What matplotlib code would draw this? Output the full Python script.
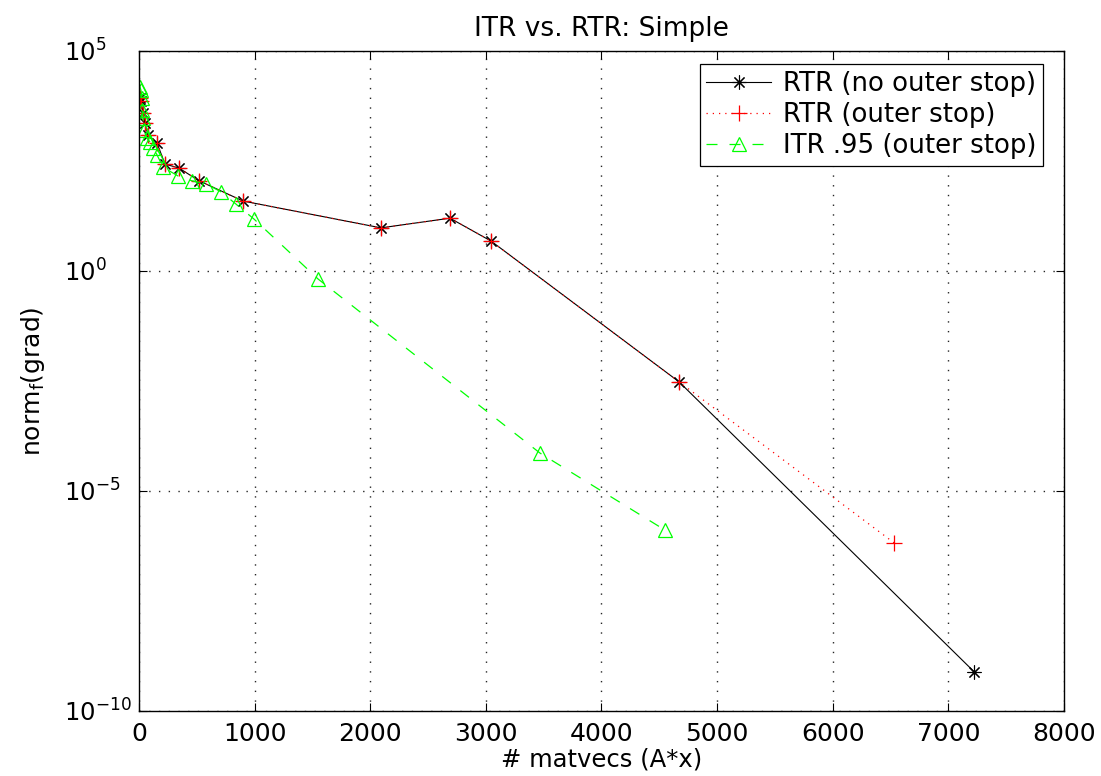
import numpy as np
import matplotlib
matplotlib.use("Agg")
import matplotlib.pyplot as plt

plt.rcParams['font.family'] = ['DejaVu Sans']
plt.rcParams['mathtext.default'] = 'regular'

# RTR without outer stop (black *)
rtr_x = [9, 17, 35, 52, 78, 156, 225, 346, 519, 900, 2093, 2690, 3045, 4671, 7223]
rtr_dec = [3.93, 3.86, 3.59, 3.36, 3.09, 2.91, 2.43, 2.34, 2.05, 1.59, 0.98, 1.20, 0.68, -2.52, -9.11]

# RTR with outer stop (red +)
rtro_x = [9, 17, 35, 52, 78, 156, 225, 346, 519, 900, 2093, 2690, 3045, 4671, 6531]
rtro_dec = [3.93, 3.86, 3.59, 3.36, 3.09, 2.91, 2.43, 2.34, 2.05, 1.59, 0.98, 1.20, 0.68, -2.52, -6.18]

# ITR .95 with outer stop (green triangles)
itr_x = [9, 17, 26, 26, 35, 43, 69, 95, 121, 156, 208, 337, 458, 580, 709, 839, 995, 1548, 3469, 4550]
itr_dec = [4.18, 4.11, 3.93, 3.66, 3.48, 3.20, 3.02, 2.93, 2.80, 2.64, 2.36, 2.16, 2.05, 1.98, 1.80, 1.52, 1.18, -0.18, -4.14, -5.89]

fig = plt.figure(figsize=(11.01, 7.76), dpi=100)
ax = fig.add_axes([0.1262, 0.0838, 0.8402, 0.8505])

ax.semilogy(rtr_x, 10.0 ** np.array(rtr_dec), 'k-', marker=(8, 2, 0), lw=0.8, ms=10,
            mew=0.8, label='RTR (no outer stop)')
ax.semilogy(rtro_x, 10.0 ** np.array(rtro_dec), color='r', ls=(0, (1, 4)), marker='+',
            lw=0.9, ms=11, mew=0.9, label='RTR (outer stop)')
ax.semilogy(itr_x, 10.0 ** np.array(itr_dec), color='#00ff00', ls='--', marker='^',
            mfc='none', mec='#00ff00', lw=0.9, ms=10, mew=0.9, dashes=(8.8, 9.6),
            label='ITR .95 (outer stop)')

ax.set_xlim(0, 8000)
ax.set_ylim(1e-10, 1e5)
ax.set_xticks(range(0, 8001, 1000))
ax.set_yticks([1e-10, 1e-5, 1e0, 1e5])
ax.set_yticklabels(['$10^{-10}$', '$10^{-5}$', '$10^{0}$', '$10^{5}$'])
ax.minorticks_off()
ax.tick_params(direction='in', top=True, right=True, labelsize=18, length=6, width=0.8)
ax.tick_params(axis='x', pad=8)
ax.tick_params(axis='y', pad=54, labelsize=17.5)
for t in ax.get_yticklabels():
    t.set_horizontalalignment('left')
ax.grid(True, ls=(0, (1, 6)), color='0.15', lw=1.0)
for s in ax.spines.values():
    s.set_linewidth(1.0)

ax.set_title('ITR vs. RTR: Simple', fontsize=19, pad=11)
ax.set_xlabel('# matvecs (A*x)', fontsize=17.5, labelpad=1)
ax.set_ylabel('norm$_f$(grad)', fontsize=18, labelpad=12)

leg = ax.legend(loc='upper right', fontsize=18.7, fancybox=False, framealpha=1,
                edgecolor='k', handlelength=2.5, bbox_to_anchor=(0.977, 0.98),
                borderaxespad=0, borderpad=0.25, labelspacing=0.2, handletextpad=0.45)
leg.get_frame().set_linewidth(0.9)

fig.savefig('out.png', dpi=100)
